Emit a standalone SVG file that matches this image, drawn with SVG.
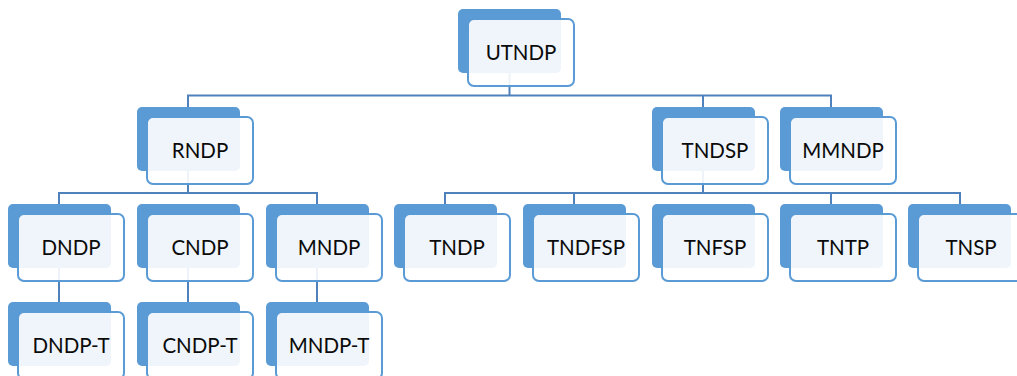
<svg xmlns="http://www.w3.org/2000/svg" width="1017" height="376" viewBox="0 0 1017 376">
<style>
.bk{fill:#5b9bd5}
.fr{fill:#ffffff;fill-opacity:0.9;stroke:#5b9bd5;stroke-width:2}
.lb{font-family:Lato,"Liberation Sans",sans-serif;font-size:20.5px;fill:#0a0a0a;text-anchor:middle}
.cn{fill:none;stroke:#4f81bd;stroke-width:2}
</style>
<defs>
<rect id="b" class="bk" width="103" height="64" rx="5"/>
<rect id="f" class="fr" width="106" height="67" rx="6"/>
</defs>
<g id="connectors">
<path class="cn" d="M509.5 73V95.5M188 107V95.5H831V107M703 95.5V107"/>
<path class="cn" d="M188 171V193M59 204V193H317V204"/>
<path class="cn" d="M703 171V193M445 204V193H960V204M574 193V204M831 193V204"/>
<path class="cn" d="M59 268V302M188 268V302M317 268V302"/>
</g>
<g id="UTNDP"><use href="#b" x="458" y="9"/><use href="#f" x="468" y="19"/><text class="lb" x="521" y="59.5">UTNDP</text></g>
<g id="RNDP"><use href="#b" x="137" y="107"/><use href="#f" x="147" y="117"/><text class="lb" x="200" y="157.5">RNDP</text></g>
<g id="TNDSP"><use href="#b" x="652" y="107"/><use href="#f" x="662" y="117"/><text class="lb" x="715" y="157.5">TNDSP</text></g>
<g id="MMNDP"><use href="#b" x="780" y="107"/><use href="#f" x="790" y="117"/><text class="lb" x="843" y="157.5">MMNDP</text></g>
<g id="DNDP"><use href="#b" x="8" y="204"/><use href="#f" x="18" y="214"/><text class="lb" x="71" y="254.5">DNDP</text></g>
<g id="CNDP"><use href="#b" x="137" y="204"/><use href="#f" x="147" y="214"/><text class="lb" x="200" y="254.5">CNDP</text></g>
<g id="MNDP"><use href="#b" x="266" y="204"/><use href="#f" x="276" y="214"/><text class="lb" x="329" y="254.5">MNDP</text></g>
<g id="TNDP"><use href="#b" x="394" y="204"/><use href="#f" x="404" y="214"/><text class="lb" x="457" y="254.5">TNDP</text></g>
<g id="TNDFSP"><use href="#b" x="523" y="204"/><use href="#f" x="533" y="214"/><text class="lb" x="586" y="254.5">TNDFSP</text></g>
<g id="TNFSP"><use href="#b" x="652" y="204"/><use href="#f" x="662" y="214"/><text class="lb" x="715" y="254.5">TNFSP</text></g>
<g id="TNTP"><use href="#b" x="780" y="204"/><use href="#f" x="790" y="214"/><text class="lb" x="843" y="254.5">TNTP</text></g>
<g id="TNSP"><use href="#b" x="908" y="204"/><use href="#f" x="918" y="214"/><text class="lb" x="971" y="254.5">TNSP</text></g>
<g id="DNDP-T"><use href="#b" x="8" y="302"/><use href="#f" x="18" y="312"/><text class="lb" x="71" y="352.5">DNDP-T</text></g>
<g id="CNDP-T"><use href="#b" x="137" y="302"/><use href="#f" x="147" y="312"/><text class="lb" x="200" y="352.5">CNDP-T</text></g>
<g id="MNDP-T"><use href="#b" x="266" y="302"/><use href="#f" x="276" y="312"/><text class="lb" x="329" y="352.5">MNDP-T</text></g>
</svg>
